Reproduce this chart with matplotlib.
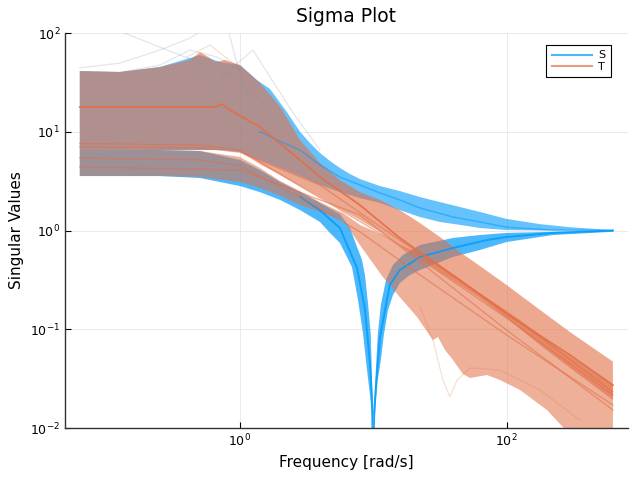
import matplotlib
matplotlib.use("Agg")
import matplotlib.pyplot as plt
from matplotlib.lines import Line2D

C_S = "#009AFA"
C_T = "#E26F46"

# ---- band edges (frequency in rad/s) ----
# S, largest singular value
S1U_w = [0.0628, 0.126, 0.251, 0.501, 0.708, 1.0, 1.34, 1.68, 2.25, 2.82, 3.35,
         3.98, 4.73, 5.62, 6.69, 7.94, 11.2, 15.8, 22.4, 31.6, 44.7, 63.1, 100,
         178, 299, 628]
S1U = [41.2, 40.3, 45.3, 59.9, 50.8, 47.4, 33.4, 27.1, 15.8, 10.0, 7.69,
       6.1, 5.06, 4.30, 3.73, 3.32, 2.82, 2.51, 2.18, 1.94, 1.73, 1.54, 1.31,
       1.16, 1.08, 1.01]
S1L_w = [0.0628, 0.126, 0.251, 0.501, 0.708, 1.0, 1.41, 2.0, 2.82, 3.98, 5.62,
         7.94, 11.2, 15.8, 22.4, 31.6, 44.7, 63.1, 100, 178, 299, 628]
S1L = [6.53, 6.53, 6.53, 6.53, 6.53, 6.24, 5.18, 4.30, 3.56, 2.89, 2.45,
       2.13, 1.90, 1.61, 1.37, 1.22, 1.14, 1.06, 1.01, 1.0, 1.0, 0.995]

# S, smallest singular value (notch at 10 rad/s)
S2U_w = [0.0628, 0.126, 0.251, 0.501, 1.0, 1.41, 2.0, 2.82, 3.98, 5.62, 6.69,
         7.55, 8.23, 8.66, 9.12, 9.56, 9.73, 9.86, 9.97, 10.0, 10.03, 10.2,
         10.5, 10.8, 11.4, 12.45, 14.05, 16.7, 22.4, 39.6, 63.1, 100, 223, 628]
S2U = [6.53, 6.53, 6.53, 6.38, 5.18, 4.10, 3.10, 2.45, 1.90, 1.47, 1.06,
       0.681, 0.503, 0.354, 0.184, 0.0916, 0.0415, 0.0192, 0.008, 0.002,
       0.0075, 0.0192, 0.0435, 0.0875, 0.176, 0.315, 0.448, 0.565, 0.713,
       0.84, 0.90, 0.945, 0.97, 1.0]
S2L_w = [0.0628, 0.126, 0.251, 0.501, 1.0, 1.41, 2.0, 2.82, 3.98, 4.73, 5.62,
         6.92, 7.68, 8.37, 8.92, 9.44, 9.78, 9.95, 10.0, 10.1, 10.5, 10.8,
         11.4, 12.0, 12.9, 14.05, 15.8, 18.8, 22.4, 39.6, 63.1, 100, 223, 628]
S2L = [3.56, 3.56, 3.56, 3.40, 2.82, 2.45, 2.04, 1.61, 1.22, 0.945, 0.747,
       0.426, 0.198, 0.0916, 0.0415, 0.0216, 0.0135, 0.0075, 0.002, 0.0075,
       0.0192, 0.0306, 0.0489, 0.0875, 0.157, 0.222, 0.294, 0.354, 0.398,
       0.54, 0.635, 0.765, 0.90, 0.97]

# T, largest singular value
T1_w = [0.0628, 0.126, 0.251, 0.422, 0.501, 0.596, 0.649, 0.772, 1.0, 1.41,
        2.0, 2.82, 3.98, 5.62, 7.94, 11.2, 15.8, 22.4, 31.6, 44.7, 63.1, 100,
        178, 299, 628]
T1U = [41.2, 40.3, 45.3, 53.3, 64.2, 55.8, 50.8, 53.3, 47.4, 31.2, 18.0,
       8.24, 4.83, 3.24, 2.45, 2.04, 1.61, 1.19, 0.86, 0.605, 0.437, 0.281,
       0.157, 0.0937, 0.047]
T1L = [6.53, 6.53, 6.53, 6.53, 6.53, 6.53, 6.53, 6.53, 6.24, 4.71, 3.65,
       2.82, 2.18, 1.65, 1.28, 0.97, 0.713, 0.527, 0.380, 0.281, 0.207, 0.13,
       0.0693, 0.0406, 0.0192]

# T, smallest singular value (ragged lower edge)
T2_w = [0.0628, 0.126, 0.251, 0.501, 1.0, 1.41, 2.0, 2.82, 3.98, 5.93, 7.94,
        11.8, 15.8, 21.3, 28.0, 30.6, 34.5, 39.6, 47.1, 53.2, 71.3, 89.2, 126,
        201, 265, 628]
T2U = [6.53, 6.53, 6.53, 6.38, 5.55, 4.30, 3.17, 2.51, 1.94, 1.50, 1.14,
       0.90, 0.713, 0.605, 0.48, 0.448, 0.398, 0.354, 0.301, 0.268, 0.207,
       0.168, 0.124, 0.0778, 0.0589, 0.0272]
T2L = [3.56, 3.56, 3.56, 3.48, 3.10, 2.69, 2.24, 1.81, 1.54, 1.28, 0.713,
       0.338, 0.212, 0.133, 0.0778, 0.0835, 0.0617, 0.0489, 0.0352, 0.0321,
       0.0344, 0.0306, 0.0243, 0.0152, 0.0102, 0.0047]

# ---- individual traces ----
S1_mid_w = [1.41, 2.0, 2.82, 3.98, 5.62, 7.94, 11.2, 15.8, 22.4, 39.6, 63.1,
            100, 223, 628]
S1_mid = [10.0, 8.0, 6.53, 4.61, 3.48, 2.89, 2.40, 2.04, 1.69, 1.37, 1.22,
          1.08, 1.01, 1.0]
S2_mid_w = [2.82, 3.98, 5.62, 7.55, 8.66, 9.44, 9.78, 10.0, 10.1, 10.5, 11.2,
            13.3, 15.8, 22.4, 39.6, 71.3, 100, 223, 628]
S2_mid = [2.2, 1.6, 1.06, 0.417, 0.16, 0.045, 0.02, 0.002, 0.0135, 0.028,
          0.0815, 0.281, 0.398, 0.54, 0.665, 0.80, 0.86, 0.945, 1.0]

Ta_w = [0.0628, 0.501, 0.649, 0.733, 0.841, 1.41, 2.82, 3.98, 7.94, 15.8,
        44.7, 100, 299, 628]
Ta = [17.8, 17.8, 17.8, 19.1, 16.6, 11.2, 5.18, 3.48, 1.81, 0.84, 0.315,
      0.143, 0.0548, 0.0272]
Tb_w = [0.0628, 0.501, 1.0, 2.82, 7.94, 22.4, 100, 628]
Tb = [5.42, 5.18, 4.5, 2.18, 0.97, 0.355, 0.0875, 0.0171]
Tc_w = [0.0628, 0.501, 1.0, 2.82, 15.8, 100, 628]
Tc = [7.6, 7.34, 6.53, 2.82, 0.713, 0.13, 0.0216]
Td_w = [0.0628, 0.501, 1.0, 3.98, 15.8, 100, 628]
Td = [7.0, 6.9, 6.2, 2.89, 0.80, 0.150, 0.0232]
Te_w = [0.0628, 1.0, 7.94, 22.4, 100, 628]
Te = [4.4, 4.1, 1.44, 0.48, 0.0982, 0.0152]

# faint outliers
O1_w = [0.0628, 0.126, 0.251, 0.422, 0.528]
O1 = [44.3, 49.6, 67.3, 89.0, 107]
O2_w = [0.119, 0.251, 0.501, 0.886, 1.41, 2.0]
O2 = [107, 72.0, 49.6, 35.8, 21.0, 11.7]
O3_w = [0.126, 0.251, 0.422, 0.672, 1.13, 1.6]
O3 = [40.0, 47.4, 67.3, 57.1, 39.4, 25.0]
O4_w = [0.649, 0.886, 1.25, 2.50, 3.98]
O4 = [29.7, 45.3, 67.3, 15.5, 6.53]
O5_w = [0.40, 0.596, 0.886, 1.41]
O5 = [57.1, 75.5, 49.6, 23.6]
O6_w = [0.827, 0.933, 1.09, 1.41]
O6 = [100, 53.3, 26.5, 15.8]
O7_w = [22.4, 28.0, 33.3, 37.6, 42.5, 53.2, 89.2, 178, 355]
O7 = [0.168, 0.0778, 0.0306, 0.0206, 0.0306, 0.0406, 0.0387, 0.0243, 0.012]


def band(ax, wu, vu, wl, vl, color, alpha):
    # closed outline: upper edge left->right, lower edge right->left
    xs = list(wu) + list(wl)[::-1]
    ys = list(vu) + list(vl)[::-1]
    ax.fill(xs, ys, color=color, alpha=alpha, lw=0)


fig = plt.figure(figsize=(6.4, 4.8), dpi=100)
ax = fig.add_axes([65 / 640, 52 / 480, 563 / 640, 395 / 480])
ax.set_xscale("log")
ax.set_yscale("log")

# S
band(ax, S1U_w, S1U, S1L_w, S1L, C_S, 0.6)
band(ax, S2U_w, S2U, S2L_w, S2L, C_S, 0.7)
ax.plot(S1_mid_w, S1_mid, color=C_S, lw=1.1, alpha=0.5)
ax.plot(S2_mid_w, S2_mid, color=C_S, lw=1.4, alpha=0.8)
for w, v in [(O1_w, O1), (O2_w, O2), (O3_w, O3), (O4_w, O4), (O6_w, O6)]:
    ax.plot(w, v, color="#7f8fb0", lw=0.9, alpha=0.22)

# T
band(ax, T1_w, T1U, T1_w, T1L, C_T, 0.6)
band(ax, T2_w, T2U, T2_w, T2L, C_T, 0.55)
ax.plot(Ta_w, Ta, color=C_T, lw=1.3, alpha=0.9)
for w, v in [(Tb_w, Tb), (Tc_w, Tc), (Td_w, Td), (Te_w, Te)]:
    ax.plot(w, v, color=C_T, lw=1.0, alpha=0.55)
for w, v in [(O5_w, O5), (O7_w, O7)]:
    ax.plot(w, v, color=C_T, lw=0.9, alpha=0.22)

ax.set_xlim(10 ** -1.313, 10 ** 2.911)
ax.set_ylim(1e-2, 1e2)
ax.set_xticks([1, 100])
ax.set_yticks([1e-2, 1e-1, 1, 10, 100])
ax.minorticks_off()
ax.grid(True, color="#e6e6e6", lw=0.6)
ax.set_axisbelow(True)
for s in ["top", "right"]:
    ax.spines[s].set_visible(False)
for s in ["left", "bottom"]:
    ax.spines[s].set_color("#333333")
    ax.spines[s].set_linewidth(1.0)
ax.tick_params(direction="in", length=4, width=0.8, labelsize=9, colors="black")

ax.set_title("Sigma Plot", fontsize=13.5, pad=8)
ax.set_xlabel("Frequency [rad/s]", fontsize=11)
ax.set_ylabel("Singular Values", fontsize=11)

handles = [Line2D([], [], color=C_S, lw=1.5, alpha=0.7),
           Line2D([], [], color=C_T, lw=1.5, alpha=0.7)]
leg = ax.legend(handles, ["S", "T"], loc="upper right", fontsize=8,
                bbox_to_anchor=(0.97, 0.97), borderaxespad=0, fancybox=False,
                framealpha=1, edgecolor="black", handlelength=3.6,
                borderpad=0.5, labelspacing=0.1, handletextpad=0.6)
leg.get_frame().set_linewidth(0.8)

fig.savefig("out.png", dpi=100)
